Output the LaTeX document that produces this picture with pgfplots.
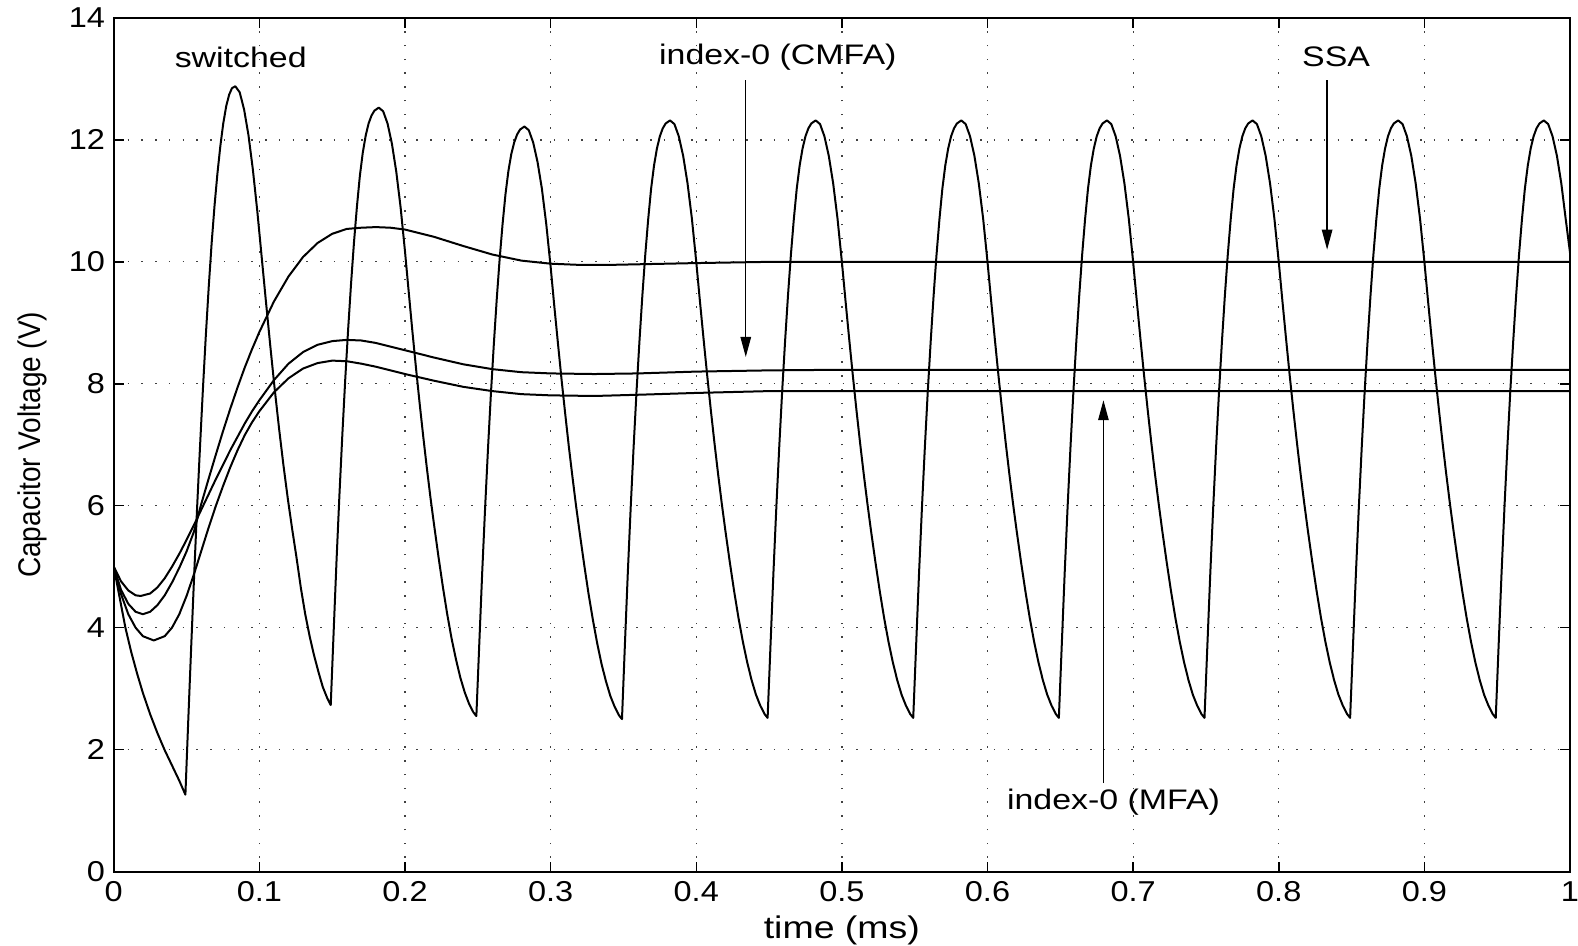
\documentclass[border=0pt]{standalone}
\usepackage{pgfplots}
\pgfplotsset{compat=1.18}
\usepackage{fontspec}
\setmainfont{Liberation Sans}[FakeStretch=1.2]
\newfontfamily\plainfont{Liberation Sans}
\newfontfamily\tickfont{Liberation Sans}[FakeStretch=1.13]
\usepackage{graphicx}
\usetikzlibrary{arrows.meta}
\begin{document}
\begin{tikzpicture}
\begin{axis}[
  scale only axis, width=582.5pt, height=341.4pt,
  xmin=0, xmax=1, ymin=0, ymax=14,
  xtick={0,0.1,0.2,0.3,0.4,0.5,0.6,0.7,0.8,0.9,1},
  ytick={0,2,4,6,8,10,12,14},
  /pgf/number format/assume math mode=true,
  ticklabel style={font=\tickfont\fontsize{11.5}{13}\selectfont},
  xticklabel style={yshift=-0.5pt},
  grid=major,
  major grid style={black!75, line width=0.5pt, dash pattern=on 0.6pt off 4.9pt},
  tick align=inside, tick pos=both, major tick length=4pt,
  every tick/.style={black, line width=0.6pt},
  axis line style={line width=0.8pt},
  xlabel={time (ms)},
  xlabel style={font=\fontsize{12.5}{14}\selectfont, at={(axis description cs:0.5,-0.0685)}, anchor=center},
  ylabel={\scalebox{1}[1.12]{\plainfont\fontsize{11.2}{13}\selectfont Capacitor Voltage (V)}},
  ylabel style={at={(axis description cs:-0.056,0.5)}, anchor=center},
]
\coordinate (ll) at (axis cs:0,0);
\coordinate (ur) at (axis cs:1,14);
% switched
\addplot[black, line width=0.8pt, line join=round] coordinates {
(0,5.00)(0.004,4.50)(0.008,4.00)(0.012,3.60)(0.016,3.25)(0.020,2.93)(0.025,2.58)(0.030,2.27)(0.035,1.99)(0.040,1.74)(0.045,1.49)(0.0492,1.26)
(0.0512,2.50)(0.0532,3.70)(0.0552,4.85)(0.0572,5.95)(0.0592,6.95)(0.0612,7.90)(0.0632,8.78)(0.0652,9.58)(0.0672,10.30)(0.0692,10.92)(0.0712,11.45)(0.0732,11.90)(0.0752,12.27)(0.0772,12.55)(0.0792,12.74)(0.0812,12.85)(0.0835,12.88)
(0.0865,12.78)(0.0895,12.50)(0.0925,12.08)(0.0955,11.52)(0.0985,10.85)(0.1015,10.10)(0.1045,9.35)(0.1075,8.62)(0.1105,7.92)(0.1135,7.27)(0.1165,6.67)(0.1195,6.12)(0.1225,5.62)(0.1255,5.15)(0.1285,4.65)(0.1315,4.22)(0.1345,3.86)(0.1375,3.55)(0.1405,3.28)(0.1435,3.03)(0.1465,2.85)(0.149,2.73)
(0.151,3.93)(0.153,5.11)(0.155,6.19)(0.157,7.18)(0.159,8.09)(0.161,8.91)(0.163,9.66)(0.165,10.33)(0.167,10.91)(0.169,11.41)(0.171,11.79)(0.173,12.07)(0.175,12.27)(0.177,12.40)(0.179,12.48)(0.182,12.53)
(0.185,12.47)(0.188,12.27)(0.191,11.94)(0.194,11.48)(0.197,10.89)(0.200,10.17)(0.2025,9.52)(0.205,8.88)(0.2075,8.27)(0.210,7.69)(0.2125,7.14)(0.215,6.62)(0.2175,6.13)(0.220,5.68)(0.223,5.16)(0.226,4.67)(0.229,4.22)(0.232,3.82)(0.235,3.48)(0.238,3.18)(0.241,2.94)(0.244,2.75)(0.247,2.61)(0.249,2.55)
(0.251,3.73)(0.253,4.90)(0.255,5.96)(0.257,6.94)(0.259,7.84)(0.261,8.65)(0.263,9.39)(0.265,10.05)(0.267,10.62)(0.269,11.11)(0.271,11.49)(0.273,11.77)(0.275,11.96)(0.277,12.09)(0.279,12.17)(0.282,12.22)
(0.285,12.16)(0.288,11.96)(0.291,11.64)(0.294,11.20)(0.297,10.62)(0.300,9.92)(0.3025,9.28)(0.305,8.67)(0.3075,8.07)(0.310,7.51)(0.3125,6.97)(0.315,6.47)(0.3175,5.99)(0.320,5.55)(0.323,5.04)(0.326,4.56)(0.329,4.13)(0.332,3.74)(0.335,3.40)(0.338,3.12)(0.341,2.88)(0.344,2.70)(0.347,2.56)(0.349,2.50)
(0.351,3.72)(0.353,4.90)(0.355,5.98)(0.357,6.97)(0.359,7.88)(0.361,8.70)(0.363,9.45)(0.365,10.12)(0.367,10.70)(0.369,11.20)(0.371,11.58)(0.373,11.86)(0.375,12.06)(0.377,12.19)(0.379,12.27)(0.382,12.32)
(0.385,12.26)(0.388,12.06)(0.391,11.74)(0.394,11.29)(0.397,10.71)(0.400,10.00)(0.4025,9.36)(0.405,8.74)(0.4075,8.14)(0.410,7.57)(0.4125,7.03)(0.415,6.52)(0.4175,6.04)(0.420,5.59)(0.423,5.08)(0.426,4.60)(0.429,4.16)(0.432,3.77)(0.435,3.43)(0.438,3.14)(0.441,2.90)(0.444,2.72)(0.447,2.58)(0.449,2.52)
(0.451,3.72)(0.453,4.90)(0.455,5.98)(0.457,6.97)(0.459,7.88)(0.461,8.70)(0.463,9.45)(0.465,10.12)(0.467,10.70)(0.469,11.20)(0.471,11.58)(0.473,11.86)(0.475,12.06)(0.477,12.19)(0.479,12.27)(0.482,12.32)
(0.485,12.26)(0.488,12.06)(0.491,11.74)(0.494,11.29)(0.497,10.71)(0.500,10.00)(0.5025,9.36)(0.505,8.74)(0.5075,8.14)(0.510,7.57)(0.5125,7.03)(0.515,6.52)(0.5175,6.04)(0.520,5.59)(0.523,5.08)(0.526,4.60)(0.529,4.16)(0.532,3.77)(0.535,3.43)(0.538,3.14)(0.541,2.90)(0.544,2.72)(0.547,2.58)(0.549,2.52)
(0.551,3.72)(0.553,4.90)(0.555,5.98)(0.557,6.97)(0.559,7.88)(0.561,8.70)(0.563,9.45)(0.565,10.12)(0.567,10.70)(0.569,11.20)(0.571,11.58)(0.573,11.86)(0.575,12.06)(0.577,12.19)(0.579,12.27)(0.582,12.32)
(0.585,12.26)(0.588,12.06)(0.591,11.74)(0.594,11.29)(0.597,10.71)(0.600,10.00)(0.6025,9.36)(0.605,8.74)(0.6075,8.14)(0.610,7.57)(0.6125,7.03)(0.615,6.52)(0.6175,6.04)(0.620,5.59)(0.623,5.08)(0.626,4.60)(0.629,4.16)(0.632,3.77)(0.635,3.43)(0.638,3.14)(0.641,2.90)(0.644,2.72)(0.647,2.58)(0.649,2.52)
(0.651,3.72)(0.653,4.90)(0.655,5.98)(0.657,6.97)(0.659,7.88)(0.661,8.70)(0.663,9.45)(0.665,10.12)(0.667,10.70)(0.669,11.20)(0.671,11.58)(0.673,11.86)(0.675,12.06)(0.677,12.19)(0.679,12.27)(0.682,12.32)
(0.685,12.26)(0.688,12.06)(0.691,11.74)(0.694,11.29)(0.697,10.71)(0.700,10.00)(0.7025,9.36)(0.705,8.74)(0.7075,8.14)(0.710,7.57)(0.7125,7.03)(0.715,6.52)(0.7175,6.04)(0.720,5.59)(0.723,5.08)(0.726,4.60)(0.729,4.16)(0.732,3.77)(0.735,3.43)(0.738,3.14)(0.741,2.90)(0.744,2.72)(0.747,2.58)(0.749,2.52)
(0.751,3.72)(0.753,4.90)(0.755,5.98)(0.757,6.97)(0.759,7.88)(0.761,8.70)(0.763,9.45)(0.765,10.12)(0.767,10.70)(0.769,11.20)(0.771,11.58)(0.773,11.86)(0.775,12.06)(0.777,12.19)(0.779,12.27)(0.782,12.32)
(0.785,12.26)(0.788,12.06)(0.791,11.74)(0.794,11.29)(0.797,10.71)(0.800,10.00)(0.8025,9.36)(0.805,8.74)(0.8075,8.14)(0.810,7.57)(0.8125,7.03)(0.815,6.52)(0.8175,6.04)(0.820,5.59)(0.823,5.08)(0.826,4.60)(0.829,4.16)(0.832,3.77)(0.835,3.43)(0.838,3.14)(0.841,2.90)(0.844,2.72)(0.847,2.58)(0.849,2.52)
(0.851,3.72)(0.853,4.90)(0.855,5.98)(0.857,6.97)(0.859,7.88)(0.861,8.70)(0.863,9.45)(0.865,10.12)(0.867,10.70)(0.869,11.20)(0.871,11.58)(0.873,11.86)(0.875,12.06)(0.877,12.19)(0.879,12.27)(0.882,12.32)
(0.885,12.26)(0.888,12.06)(0.891,11.74)(0.894,11.29)(0.897,10.71)(0.900,10.00)(0.9025,9.36)(0.905,8.74)(0.9075,8.14)(0.910,7.57)(0.9125,7.03)(0.915,6.52)(0.9175,6.04)(0.920,5.59)(0.923,5.08)(0.926,4.60)(0.929,4.16)(0.932,3.77)(0.935,3.43)(0.938,3.14)(0.941,2.90)(0.944,2.72)(0.947,2.58)(0.949,2.52)
(0.951,3.72)(0.953,4.90)(0.955,5.98)(0.957,6.97)(0.959,7.88)(0.961,8.70)(0.963,9.45)(0.965,10.12)(0.967,10.70)(0.969,11.20)(0.971,11.58)(0.973,11.86)(0.975,12.06)(0.977,12.19)(0.979,12.27)(0.982,12.32)
(0.985,12.26)(0.988,12.06)(0.991,11.74)(0.994,11.29)(0.997,10.71)(1.000,10.15)
};
% SSA
\addplot[black, line width=0.8pt, line join=round] coordinates {
(0,5.00)(0.005,4.62)(0.010,4.39)(0.015,4.26)(0.020,4.22)(0.025,4.26)(0.030,4.37)(0.035,4.53)(0.040,4.74)(0.045,4.98)(0.050,5.25)(0.055,5.57)(0.060,6.02)(0.065,6.43)(0.070,6.83)(0.075,7.22)(0.080,7.59)(0.085,7.94)(0.090,8.27)(0.095,8.57)(0.100,8.85)(0.110,9.35)(0.120,9.76)(0.130,10.08)(0.140,10.31)(0.150,10.46)(0.160,10.54)(0.170,10.56)(0.180,10.57)(0.190,10.56)(0.200,10.53)(0.220,10.41)(0.240,10.26)(0.260,10.12)(0.280,10.02)(0.300,9.97)(0.320,9.95)(0.340,9.95)(0.360,9.96)(0.400,9.98)(0.450,10.00)(0.500,10.00)(1.000,10.00)
};
% index-0 (CMFA)
\addplot[black, line width=0.8pt, line join=round] coordinates {
(0,5.00)(0.005,4.76)(0.010,4.61)(0.015,4.53)(0.0185,4.52)(0.025,4.56)(0.030,4.66)(0.035,4.81)(0.040,5.00)(0.045,5.21)(0.050,5.44)(0.055,5.68)(0.060,5.93)(0.065,6.18)(0.070,6.43)(0.075,6.67)(0.080,6.91)(0.085,7.13)(0.090,7.35)(0.095,7.55)(0.100,7.73)(0.110,8.06)(0.120,8.33)(0.130,8.52)(0.140,8.64)(0.150,8.70)(0.160,8.72)(0.170,8.71)(0.180,8.67)(0.190,8.61)(0.200,8.55)(0.220,8.43)(0.240,8.32)(0.260,8.24)(0.280,8.19)(0.300,8.17)(0.330,8.16)(0.360,8.17)(0.400,8.20)(0.450,8.22)(0.500,8.23)(1.000,8.23)
};
% index-0 (MFA)
\addplot[black, line width=0.8pt, line join=round] coordinates {
(0,5.00)(0.005,4.55)(0.010,4.22)(0.015,4.00)(0.020,3.86)(0.0275,3.79)(0.035,3.86)(0.040,4.00)(0.045,4.22)(0.050,4.52)(0.055,4.87)(0.060,5.25)(0.065,5.63)(0.070,5.99)(0.075,6.32)(0.080,6.63)(0.085,6.91)(0.090,7.16)(0.095,7.37)(0.100,7.55)(0.110,7.86)(0.120,8.09)(0.130,8.25)(0.140,8.34)(0.150,8.38)(0.160,8.37)(0.170,8.33)(0.180,8.28)(0.190,8.22)(0.200,8.16)(0.220,8.05)(0.240,7.95)(0.260,7.88)(0.280,7.83)(0.300,7.81)(0.330,7.80)(0.360,7.82)(0.400,7.85)(0.450,7.88)(1.000,7.88)
};
% annotations
\node[font=\fontsize{11.3}{13}\selectfont] at (axis cs:0.0872,13.36) {switched};
\node[font=\fontsize{11.3}{13}\selectfont] at (axis cs:0.456,13.36) {index-0 (CMFA)};
\node[font=\fontsize{11.3}{13}\selectfont] at (axis cs:0.8394,13.36) {SSA};
\node[font=\fontsize{11.3}{13}\selectfont] at (axis cs:0.6865,1.14) {index-0 (MFA)};
\draw[line width=0.5pt, -{Triangle[length=8pt,width=4.2pt]}] (axis cs:0.434,12.98) -- (axis cs:0.434,8.44);
\draw[line width=0.5pt, -{Triangle[length=8pt,width=4.2pt]}] (axis cs:0.8332,12.98) -- (axis cs:0.8332,10.2);
\draw[line width=0.5pt, -{Triangle[length=8pt,width=4.2pt]}] (axis cs:0.6796,1.45) -- (axis cs:0.6796,7.73);
\end{axis}
\pgfresetboundingbox
\path ([shift={(-45.5pt,-29.4pt)}]ll) rectangle ([shift={(3.2pt,7.2pt)}]ur);
\end{tikzpicture}
\end{document}
